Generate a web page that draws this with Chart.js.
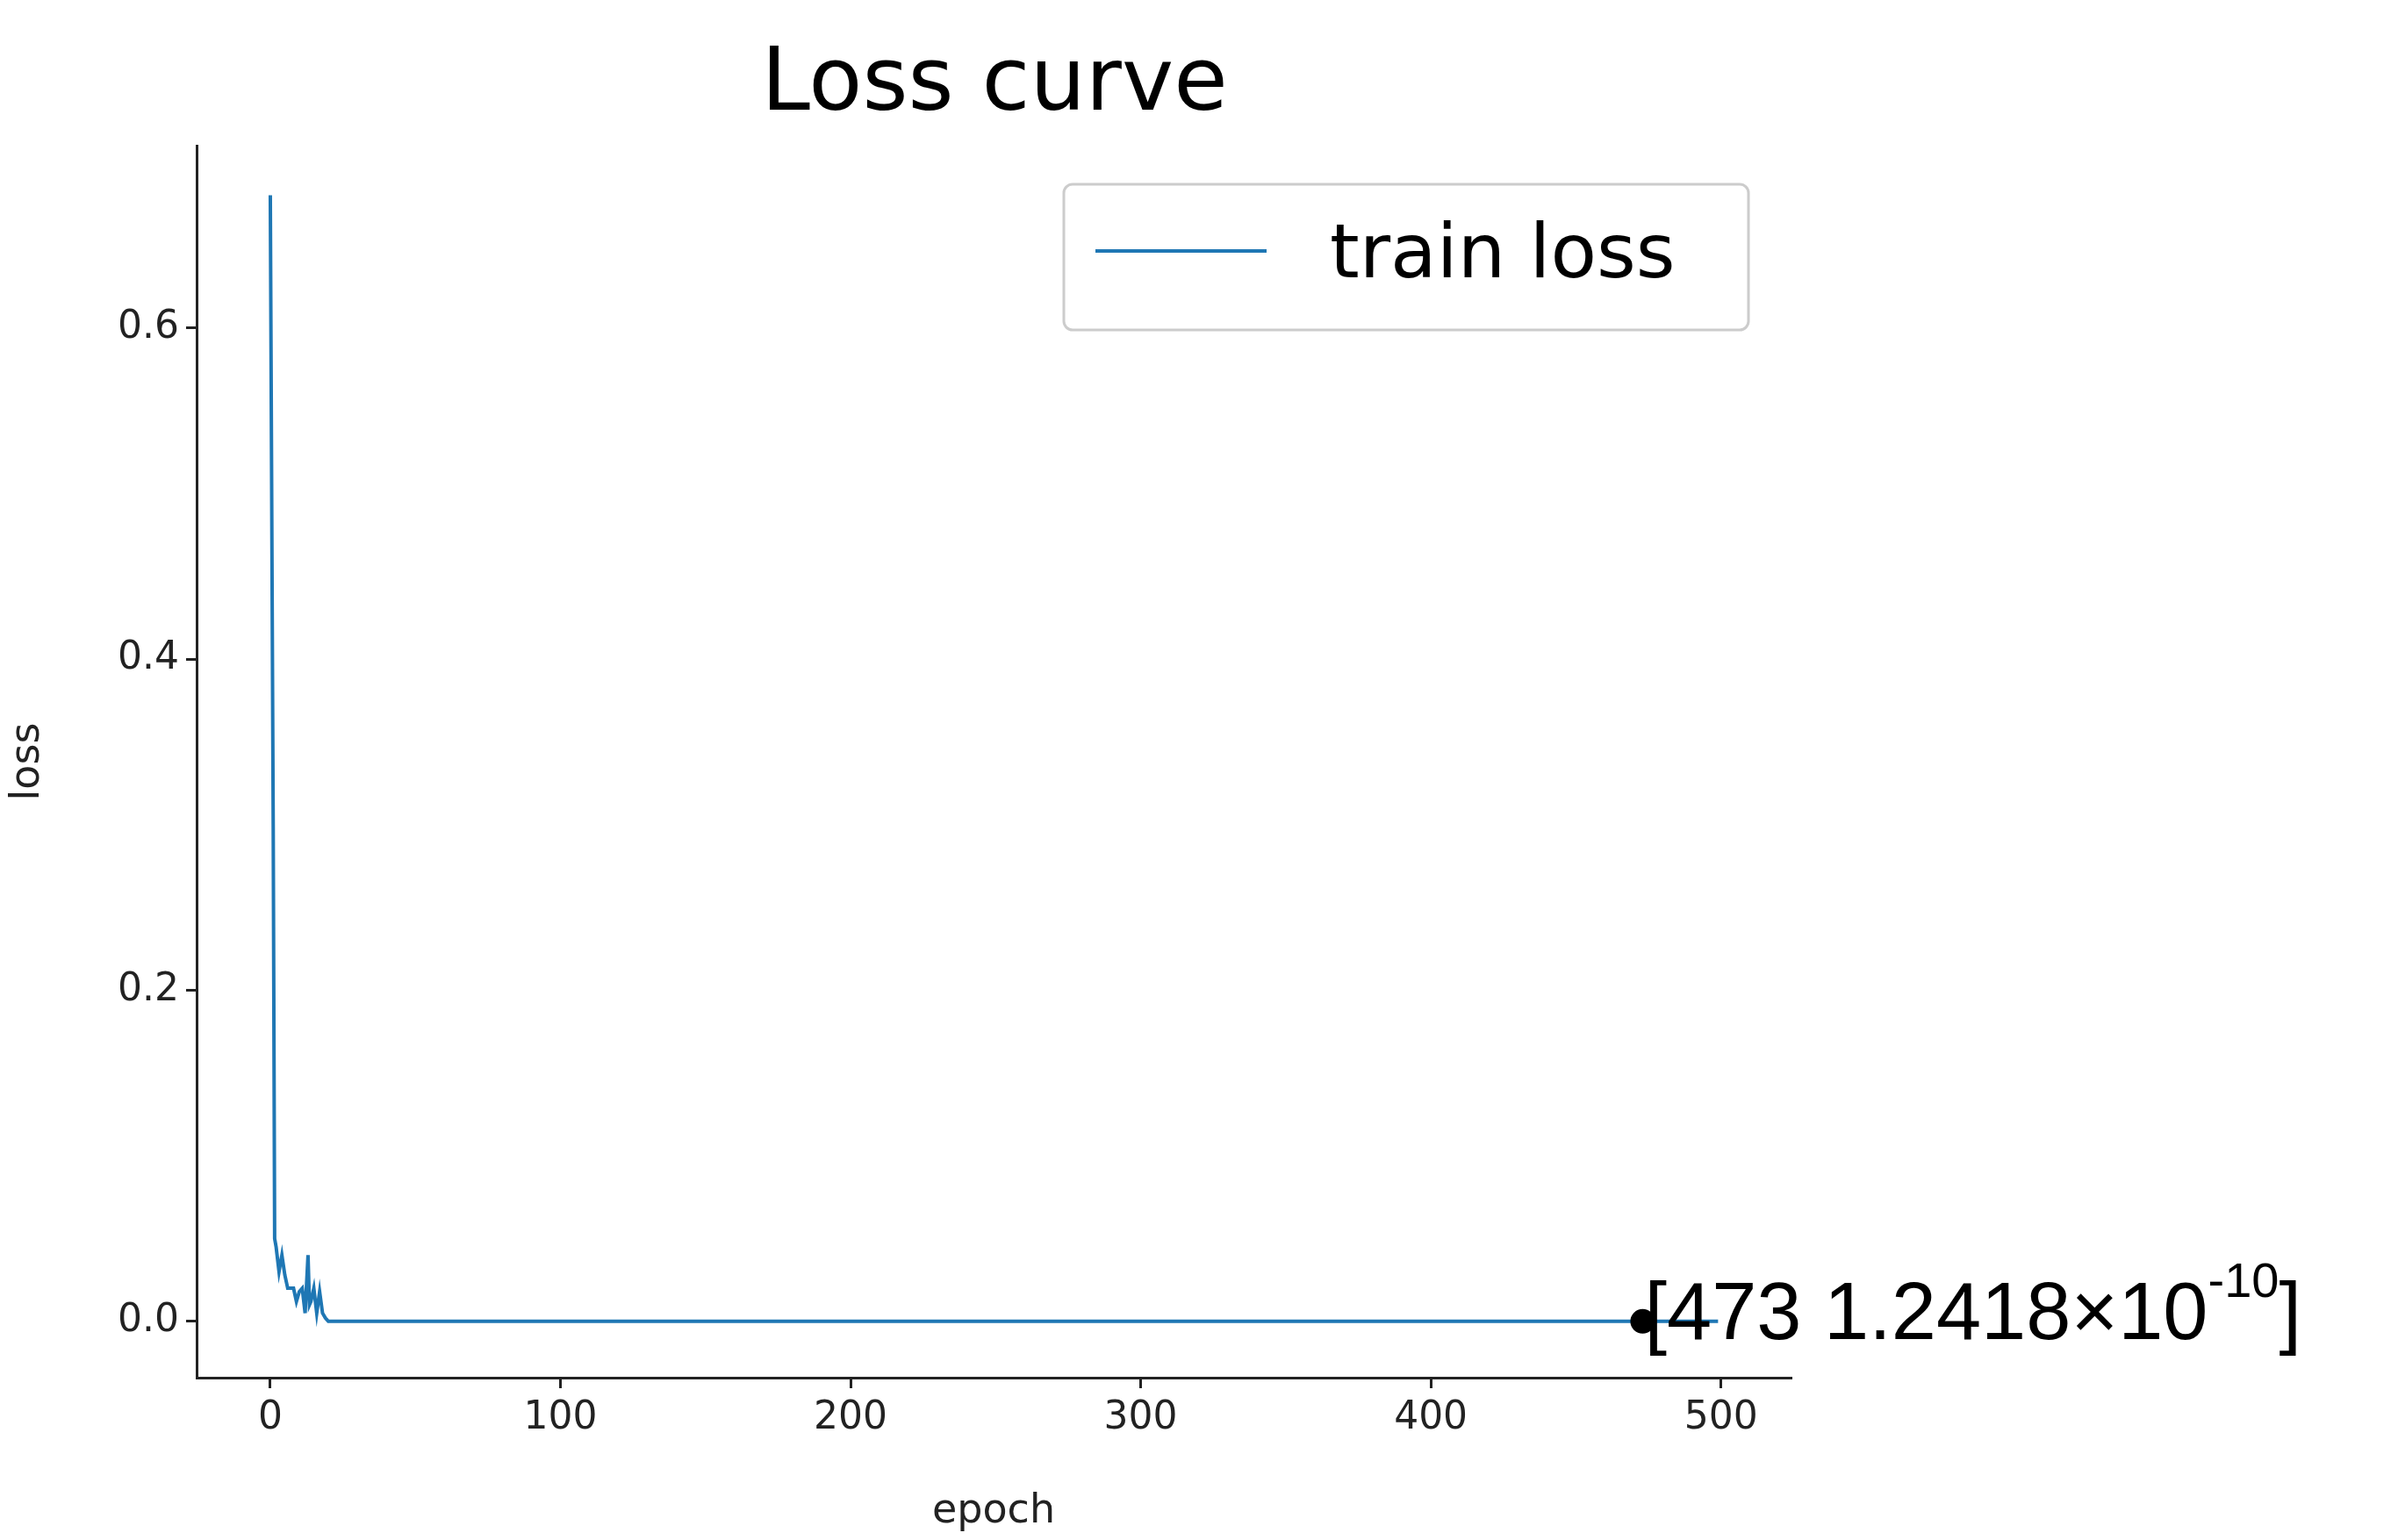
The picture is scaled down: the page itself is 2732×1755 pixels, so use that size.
<!DOCTYPE html>
<html lang="en">
<head>
  <meta charset="UTF-8">
  <title>Loss curve</title>
  <style>
    body { margin: 0; background: #fff; }
    canvas { display: block; }
  </style>
</head>
<body>
  <canvas id="lossChart" width="2732" height="1755"></canvas>
  <script src="https://cdn.jsdelivr.net/npm/chart.js"></script>
  <script>
    // epochs where the curve changes; flat at zero after ~20
    const epochs = [0, 1, 1.5, 2, 3, 4, 5, 6, 8, 9, 10, 11, 12, 13, 13.5, 14, 15, 16, 17, 18, 19, 20, 499];
    const trainLoss = [0.68, 0.30, 0.05, 0.045, 0.03, 0.04, 0.028, 0.02, 0.02, 0.012, 0.018, 0.02, 0.005, 0.04, 0.01, 0.012, 0.02, 0.005, 0.018, 0.005, 0.002, 0, 0];
    const xTicks = [0, 100, 200, 300, 400, 500];
    const yTicks = [0.0, 0.2, 0.4, 0.6];
    const markEpoch = 473;
    const markLoss = 1.2418e-10;

    const FONT = '"DejaVu Sans", sans-serif';

    const extras = {
      id: 'extras',
      afterDraw(chart) {
        const c = chart.ctx, x = chart.scales.x, y = chart.scales.y;
        c.save();
        // title
        c.fillStyle = '#000';
        c.font = '100px ' + FONT;
        c.textAlign = 'center';
        c.textBaseline = 'alphabetic';
        c.fillText('Loss curve', 1133, 125);
        // legend
        c.strokeStyle = '#ccc'; c.lineWidth = 3;
        c.fillStyle = 'rgba(255,255,255,0.8)';
        c.beginPath(); c.roundRect(1212, 210, 780, 166, 10); c.fill(); c.stroke();
        c.strokeStyle = '#1f77b4'; c.lineWidth = 4;
        c.beginPath(); c.moveTo(1248, 286); c.lineTo(1443, 286); c.stroke();
        c.fillStyle = '#000'; c.textAlign = 'left'; c.font = '86px ' + FONT;
        c.fillText('train loss', 1515, 316);
        // marked point
        const px = x.getPixelForValue(markEpoch), py = y.getPixelForValue(markLoss);
        c.beginPath(); c.arc(px, py, 14, 0, Math.PI * 2); c.fill();
        c.font = '92px "Liberation Sans", sans-serif';
        let t = '[473 1.2418\u00d710';
        c.fillText(t, px + 2, py + 20);
        let w = c.measureText(t).width;
        c.font = '56px "Liberation Sans", sans-serif';
        c.fillText('-10', px + 2 + w, py - 28);
        let w2 = c.measureText('-10').width;
        c.font = '92px "Liberation Sans", sans-serif';
        c.fillText(']', px + 2 + w + w2, py + 20);
        c.restore();
      }
    };

    const axisStyle = {
      border: { color: '#222', width: 3 },
      grid: { drawOnChartArea: false, drawTicks: true, tickLength: 12, color: '#222', lineWidth: 3 },
      ticks: { color: '#222', font: { family: FONT, size: 44 }, padding: 8 },
      title: { display: true, color: '#222', font: { family: FONT, size: 46 } }
    };

    new Chart(document.getElementById('lossChart'), {
      type: 'line',
      data: {
        datasets: [{
          label: 'train loss',
          data: epochs.map((e, i) => ({ x: e, y: trainLoss[i] })),
          borderColor: '#1f77b4',
          borderWidth: 4,
          pointRadius: 0,
          tension: 0
        }]
      },
      options: {
        responsive: false,
        animation: false,
        layout: { padding: { left: 0, right: 692, top: 166, bottom: 0 } },
        plugins: { legend: { display: false }, tooltip: { enabled: false } },
        scales: {
          x: {
            type: 'linear', min: -25.4, max: 524,
            ...axisStyle,
            title: { ...axisStyle.title, text: 'epoch', padding: { top: 6 } },
            afterBuildTicks: s => { s.ticks = xTicks.map(v => ({ value: v })); },
            afterFit: s => { s.height = 185; }
          },
          y: {
            type: 'linear', min: -0.034, max: 0.71,
            ...axisStyle,
            ticks: { ...axisStyle.ticks, callback: v => v.toFixed(1) },
            title: { ...axisStyle.title, text: 'loss' },
            afterBuildTicks: s => { s.ticks = yTicks.map(v => ({ value: v })); },
            afterFit: s => { s.width = 224; }
          }
        }
      },
      plugins: [extras]
    });
  </script>
</body>
</html>
